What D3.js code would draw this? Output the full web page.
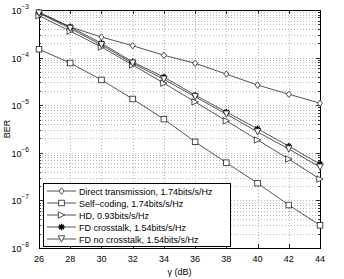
<!DOCTYPE html>
<html>
<head>
<meta charset="utf-8">
<script src="https://cdn.jsdelivr.net/npm/d3@7"></script>
<style>
  body { margin: 0; background: #fff; }
  svg { display: block; font-family: "Liberation Sans", Arial, sans-serif; }
</style>
</head>
<body>
<script>
// snr values in dB
var snr = [26, 28, 30, 32, 34, 36, 38, 40, 42, 44];

// BER per scheme
var direct   = [8.8e-4, 4.4e-4, 2.7e-4, 1.78e-4, 1.12e-4, 7.6e-5, 4.5e-5, 2.65e-5, 1.7e-5, 1.1e-5];
var selfCode = [1.5e-4, 7.7e-5, 3.4e-5, 1.35e-5, 5.1e-6, 1.7e-6, 6.2e-7, 2.3e-7, 8e-8, 3e-8];
var hd       = [7.6e-4, 3.6e-4, 1.67e-4, 7e-5, 2.9e-5, 1.17e-5, 4.7e-6, 1.86e-6, 7.4e-7, 2.8e-7];
var fdCross  = [9e-4, 4.4e-4, 2.0e-4, 8.1e-5, 3.9e-5, 1.63e-5, 7.2e-6, 3.2e-6, 1.38e-6, 5.8e-7];
var fdNo     = [8.6e-4, 4.1e-4, 1.85e-4, 7.6e-5, 3.5e-5, 1.5e-5, 6.5e-6, 2.75e-6, 1.2e-6, 5e-7];

var labels = [
  "Direct transmission, 1.74bits/s/Hz",
  "Self\u2212coding, 1.74bits/s/Hz",
  "HD, 0.93bits/s/Hz",
  "FD crosstalk, 1.54bits/s/Hz",
  "FD no crosstalk, 1.54bits/s/Hz"
];
var markers = ["diamond", "square", "triright", "star", "tridown"];

var xTicks = [26, 28, 30, 32, 34, 36, 38, 40, 42, 44];
var yExps = [-3, -4, -5, -6, -7, -8];

var W = 344, H = 279;
var m = { left: 39, right: 24, top: 10, bottom: 31 };
var fs = 9;

var svg = d3.select("body").append("svg")
    .attr("width", W)
    .attr("height", H);

var x = d3.scaleLinear().domain([26, 44]).range([m.left, W - m.right]);
var y = d3.scaleLog().domain([1e-8, 1e-3]).range([H - m.bottom, m.top]);

var x0 = m.left, x1 = W - m.right, y0 = H - m.bottom, y1 = m.top;

// grid
var grid = svg.append("g").attr("stroke", "#8a8a8a").attr("stroke-width", 0.6)
    .attr("stroke-dasharray", "1,2");
var minor = [];
for (var e = -8; e < -3; e++) {
  for (var k = 1; k < 10; k++) minor.push(k * Math.pow(10, e));
}
minor.push(1e-3);
minor.forEach(function (v) {
  grid.append("line").attr("x1", x0).attr("x2", x1)
    .attr("y1", Math.round(y(v)) + 0.5).attr("y2", Math.round(y(v)) + 0.5);
});
xTicks.forEach(function (t) {
  grid.append("line").attr("y1", y0).attr("y2", y1)
    .attr("x1", Math.round(x(t)) + 0.5).attr("x2", Math.round(x(t)) + 0.5);
});

// ticks
var ticks = svg.append("g").attr("stroke", "#000").attr("stroke-width", 0.8);
xTicks.forEach(function (t) {
  var px = Math.round(x(t)) + 0.5;
  ticks.append("line").attr("x1", px).attr("x2", px).attr("y1", y0).attr("y2", y0 - 4);
  ticks.append("line").attr("x1", px).attr("x2", px).attr("y1", y1).attr("y2", y1 + 4);
});
minor.forEach(function (v) {
  var py = Math.round(y(v)) + 0.5;
  var major = Math.abs(Math.log10(v) - Math.round(Math.log10(v))) < 1e-9;
  var len = major ? 4 : 2;
  ticks.append("line").attr("x1", x0).attr("x2", x0 + len).attr("y1", py).attr("y2", py);
  ticks.append("line").attr("x1", x1).attr("x2", x1 - len).attr("y1", py).attr("y2", py);
});

// frame
svg.append("rect")
    .attr("x", x0 + 0.5).attr("y", y1 + 0.5)
    .attr("width", x1 - x0).attr("height", y0 - y1)
    .attr("fill", "none").attr("stroke", "#000").attr("stroke-width", 1);

// tick labels
svg.append("g").selectAll("text").data(xTicks).join("text")
    .attr("x", function (d) { return x(d); })
    .attr("y", y0 + 14)
    .attr("text-anchor", "middle")
    .attr("font-size", fs)
    .text(function (d) { return d; });

var yl = svg.append("g").selectAll("text").data(yExps).join("text")
    .attr("x", 29)
    .attr("y", function (d) { return y(Math.pow(10, d)) + 4; })
    .attr("text-anchor", "end")
    .attr("font-size", fs);
yl.append("tspan").text("10");
yl.append("tspan").attr("font-size", 6.5).attr("dy", -5)
    .text(function (d) { return "\u2212" + (-d); });

// axis titles
svg.append("text")
    .attr("x", (x0 + x1) / 2).attr("y", H - 4)
    .attr("text-anchor", "middle").attr("font-size", fs)
    .text("\u03b3 (dB)");
svg.append("text")
    .attr("transform", "translate(10," + ((y0 + y1) / 2) + ") rotate(-90)")
    .attr("text-anchor", "middle").attr("font-size", fs)
    .text("BER");

// marker drawing
function drawMarker(g, type, cx, cy) {
  var s = 3.2;
  if (type === "diamond") {
    g.append("path").attr("d", "M" + cx + "," + (cy - s) + "L" + (cx + s * 0.8) + "," + cy +
      "L" + cx + "," + (cy + s) + "L" + (cx - s * 0.8) + "," + cy + "Z")
      .attr("fill", "#fff").attr("stroke", "#222").attr("stroke-width", 0.8);
  } else if (type === "square") {
    g.append("rect").attr("x", cx - 2.8).attr("y", cy - 2.8).attr("width", 5.6).attr("height", 5.6)
      .attr("fill", "#fff").attr("stroke", "#222").attr("stroke-width", 0.8);
  } else if (type === "triright") {
    g.append("path").attr("d", "M" + (cx + s) + "," + cy + "L" + (cx - s) + "," + (cy - s) +
      "L" + (cx - s) + "," + (cy + s) + "Z")
      .attr("fill", "#fff").attr("stroke", "#222").attr("stroke-width", 0.8);
  } else if (type === "tridown") {
    g.append("path").attr("d", "M" + cx + "," + (cy + s) + "L" + (cx - s) + "," + (cy - s) +
      "L" + (cx + s) + "," + (cy - s) + "Z")
      .attr("fill", "#fff").attr("stroke", "#222").attr("stroke-width", 0.8);
  } else if (type === "star") {
    var p = "";
    for (var a = 0; a < 4; a++) {
      var ang = a * Math.PI / 4;
      var dx = Math.cos(ang) * s, dy = Math.sin(ang) * s;
      p += "M" + (cx - dx) + "," + (cy - dy) + "L" + (cx + dx) + "," + (cy + dy);
    }
    g.append("path").attr("d", p).attr("stroke", "#000").attr("stroke-width", 1.3);
  }
}

var series = [direct, selfCode, hd, fdCross, fdNo];
var line = d3.line()
    .x(function (d, i) { return x(snr[i]); })
    .y(function (d) { return y(d); });

var plot = svg.append("g");
series.forEach(function (s, si) {
  plot.append("path").datum(s)
      .attr("d", line)
      .attr("fill", "none")
      .attr("stroke", "#2a2a2a")
      .attr("stroke-width", 0.8);
});
series.forEach(function (s, si) {
  s.forEach(function (v, i) {
    drawMarker(plot, markers[si], x(snr[i]), y(v));
  });
});

// legend
var lg = svg.append("g");
var lx = 43, ly = 183, lw = 187, lh = 63;
lg.append("rect").attr("x", lx + 0.5).attr("y", ly + 0.5).attr("width", lw).attr("height", lh)
    .attr("fill", "#fff").attr("stroke", "#000").attr("stroke-width", 1);
labels.forEach(function (t, i) {
  var ry = ly + 8 + i * 12;
  lg.append("line").attr("x1", lx + 4).attr("x2", lx + 33).attr("y1", ry).attr("y2", ry)
      .attr("stroke", "#2a2a2a").attr("stroke-width", 0.8);
  drawMarker(lg, markers[i], lx + 18.5, ry);
  lg.append("text").attr("x", lx + 36).attr("y", ry + 3.5)
      .attr("font-size", fs).text(t);
});
</script>
</body>
</html>
